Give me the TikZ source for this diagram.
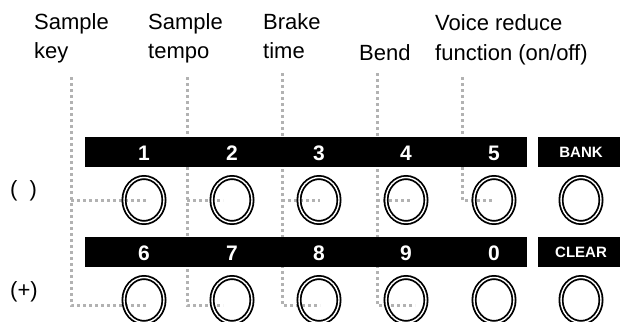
\documentclass[tikz,border=0pt]{standalone}
\usepackage{fontspec}
\setmainfont{Liberation Sans}
\usetikzlibrary{shapes.geometric}
\begin{document}
\begin{tikzpicture}[x=1pt,y=-1pt,
  lbl/.style={font=\fontsize{22}{29}\selectfont, align=left, anchor=base west, inner sep=0pt},
  bar/.style={fill=black, draw=none, anchor=north west, inner sep=0pt},
  num/.style={text=white, font=\fontsize{21}{21}\selectfont\bfseries, inner sep=0pt, anchor=base},
  word/.style={text=white, font=\fontsize{15}{15}\selectfont\bfseries, inner sep=0pt, anchor=base},
  keybtn/.style={ellipse, draw=black, double=white, line width=1.8pt, double distance=1.4pt,
    minimum width=40pt, minimum height=45pt, inner sep=0pt},
  dots/.style={draw=black!30, line width=3pt, dash pattern=on 3pt off 3pt, line cap=butt}]
\useasboundingbox (0,0) rectangle (620,321);

% labels (anchored at the baseline of the last line)
\node[lbl] (lkey) at (34,59) {Sample\\key};
\node[lbl] (ltempo) at (148,59) {Sample\\tempo};
\node[lbl] (lbrake) at (263,59) {Brake\\time};
\node[lbl] (lbend) at (359,60) {Bend};
\node[lbl] (lvoice) at (435,60) {Voice reduce\\function (on/off)};
\node[lbl] (lpar) at (10,196) {(\ \ )};
\node[lbl] (lplus) at (10,297) {(+)};

% connector coordinates
\coordinate (t1) at (71,77);
\coordinate (t2) at (187,77);
\coordinate (t3) at (282,73);
\coordinate (t4) at (377,73);
\coordinate (t5) at (462,77);
\coordinate (a1) at (148,200);
\coordinate (b1) at (148,305);
\coordinate (a2) at (223,200);
\coordinate (b2) at (223,305);
\coordinate (a3) at (320,200);
\coordinate (b3) at (320,305);
\coordinate (a4) at (412,200);
\coordinate (b4) at (415,305);
\coordinate (a5) at (492,200);

% dotted connectors (behind the bars)
\draw[dots] (t1) |- (b1);
\draw[dots] (t1 |- a1) -- (a1);
\draw[dots] (t2) |- (b2);
\draw[dots] (t2 |- a2) -- (a2);
\draw[dots] (t3) |- (b3);
\draw[dots] (t3 |- a3) -- (a3);
\draw[dots] (t4) |- (b4);
\draw[dots] (t4 |- a4) -- (a4);
\draw[dots] (t5) |- (a5);

% bars
\node[bar, minimum width=442pt, minimum height=29.5pt] (bar1) at (85,137) {};
\node[bar, minimum width=82pt, minimum height=29.5pt] (bank) at (538,137) {};
\node[bar, minimum width=442pt, minimum height=30pt] (bar2) at (85,237) {};
\node[bar, minimum width=82pt, minimum height=30pt] (clear) at (538,237) {};

% numbers
\node[num] (n1) at (144,160) {1};
\node[num] (n2) at (232,160) {2};
\node[num] (n3) at (319,160) {3};
\node[num] (n4) at (406,160) {4};
\node[num] (n5) at (494,160) {5};
\node[word] (wbank) at (581,157) {BANK};
\node[num] (n6) at (144,260) {6};
\node[num] (n7) at (232,260) {7};
\node[num] (n8) at (319,260) {8};
\node[num] (n9) at (406,260) {9};
\node[num] (n0) at (494,260) {0};
\node[word] (wclear) at (581,257) {CLEAR};

% buttons
\foreach \i/\x in {1/144,2/232,3/319,4/406,5/494,6/581}{
  \node[keybtn] (c\i) at (\x,200) {};
  \node[keybtn] (d\i) at (\x,300) {};
}
\end{tikzpicture}
\end{document}
